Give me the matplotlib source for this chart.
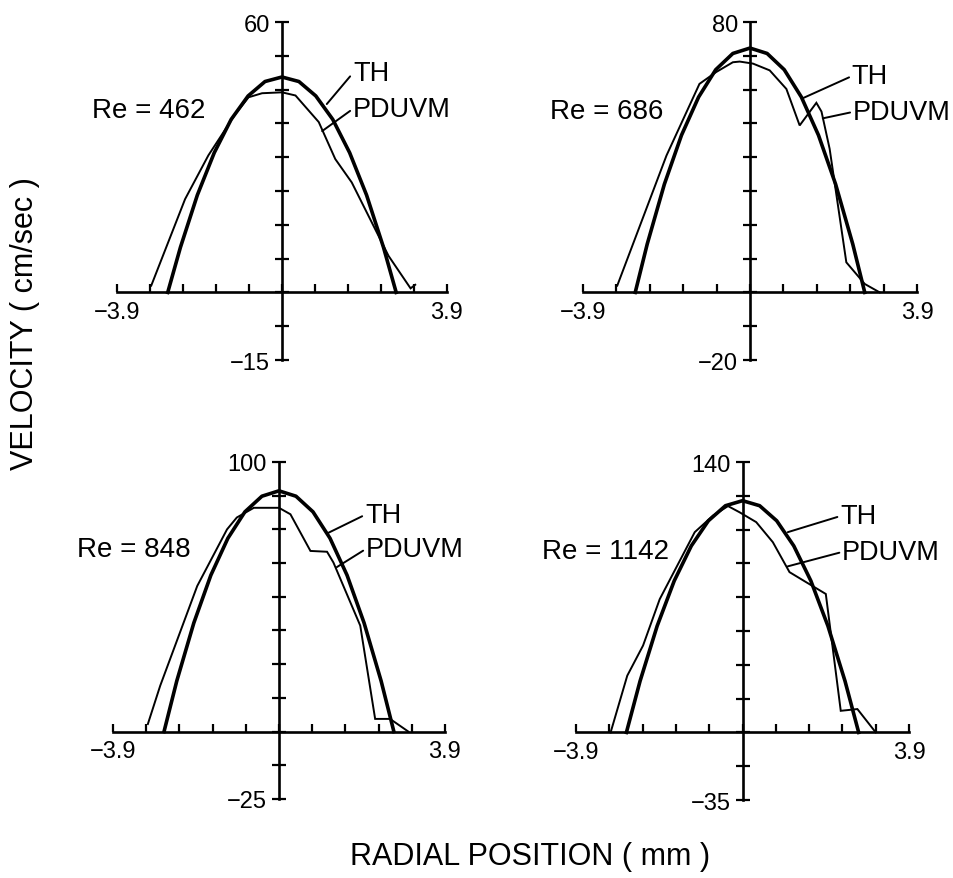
"""
Velocity profiles, theory (TH) vs. pulsed Doppler (PDUVM), four Reynolds numbers.
"""
import numpy as np
import matplotlib
matplotlib.use("Agg")
import matplotlib.pyplot as plt

plt.rcParams["font.family"] = ["Liberation Sans", "DejaVu Sans"]

# ---- data ------------------------------------------------------------------
RE_LABELS = ["Re = 462", "Re = 686", "Re = 848", "Re = 1142"]
Y_MIN = [-15, -20, -25, -35]
Y_MAX = [60, 80, 100, 140]
X_LIM = 3.9

# theoretical profiles (thick line)
th_x_462 = [-2.7, -2.4, -2.0, -1.6, -1.2, -0.8, -0.4, 0.0, 0.4, 0.8, 1.2, 1.6, 2.0, 2.4, 2.7]
th_y_462 = [0.0, 10.0, 21.6, 31.0, 38.4, 43.6, 46.8, 47.8, 46.8, 43.6, 38.4, 31.0, 21.6, 10.0, 0.0]

th_x_686 = [-2.68, -2.4, -2.0, -1.6, -1.2, -0.8, -0.4, 0.0, 0.4, 0.8, 1.2, 1.6, 2.0, 2.4, 2.68]
th_y_686 = [0.0, 14.3, 32.0, 46.5, 57.8, 65.9, 70.7, 72.3, 70.7, 65.9, 57.8, 46.5, 32.0, 14.3, 0.0]

th_x_848 = [-2.7, -2.4, -2.0, -1.6, -1.2, -0.8, -0.4, 0.0, 0.4, 0.8, 1.2, 1.6, 2.0, 2.4, 2.7]
th_y_848 = [0.0, 18.8, 40.3, 58.0, 71.7, 81.5, 87.3, 89.3, 87.3, 81.5, 71.7, 58.0, 40.3, 18.8, 0.0]

th_x_1142 = [-2.72, -2.4, -2.0, -1.6, -1.2, -0.8, -0.4, 0.0, 0.4, 0.8, 1.2, 1.6, 2.0, 2.4, 2.72]
th_y_1142 = [0.0, 26.6, 55.1, 78.5, 96.6, 109.6, 117.4, 120.0, 117.4, 109.6, 96.6, 78.5, 55.1, 26.6, 0.0]

# measured profiles (thin line)
pd_x_462 = [-3.09, -2.29, -1.74, -1.10, -0.79, -0.47, 0.0, 0.32, 0.87, 1.26, 1.65, 2.52, 3.04, 3.15]
pd_y_462 = [1.5, 20.7, 30.4, 39.6, 43.3, 44.2, 44.4, 43.7, 37.8, 29.6, 24.4, 8.1, 0.9, 1.7]

pd_x_686 = [-3.10, -1.95, -1.18, -0.79, -0.40, -0.24, 0.07, 0.46, 0.85, 1.16, 1.55, 1.67, 1.86, 2.25, 2.68, 3.03]
pd_y_686 = [2.0, 40.5, 61.7, 65.2, 68.1, 68.3, 67.7, 65.7, 60.2, 49.4, 56.1, 53.5, 42.5, 8.9, 2.5, 0.0]

pd_x_848 = [-3.08, -2.79, -1.92, -1.22, -0.99, -0.59, 0.0, 0.27, 0.74, 1.13, 1.28, 1.91, 2.26, 2.61, 3.04]
pd_y_848 = [2.8, 17.0, 54.0, 75.0, 79.4, 83.0, 83.0, 80.6, 67.0, 66.7, 62.7, 39.3, 4.7, 4.7, 0.0]

pd_x_1142 = [-3.09, -2.70, -2.33, -1.94, -1.12, -0.69, -0.34, -0.07, 0.32, 0.71, 1.10, 1.49, 1.95, 2.30, 2.69, 3.12]
pd_y_1142 = [0.0, 29.4, 45.0, 69.0, 103.7, 112.3, 117.2, 114.0, 108.9, 98.5, 83.0, 77.8, 71.7, 11.2, 12.1, 0.0]

TH_X = [th_x_462, th_x_686, th_x_848, th_x_1142]
TH_Y = [th_y_462, th_y_686, th_y_848, th_y_1142]
PD_X = [pd_x_462, pd_x_686, pd_x_848, pd_x_1142]
PD_Y = [pd_y_462, pd_y_686, pd_y_848, pd_y_1142]

# leader line end points on the curves (data coords)
TH_POINT = [(1.06, 41.8), (1.24, 57.5), (1.17, 73.8), (1.06, 103.7)]
PD_POINT = [(0.95, 35.8), (1.70, 51.5), (1.36, 61.0), (1.06, 86.0)]

# ---- layout ----------------------------------------------------------------
AX_RECTS = [
    [0.1226, 0.5893, 0.3459, 0.3845],
    [0.6111, 0.5893, 0.3501, 0.3845],
    [0.1184, 0.0899, 0.3480, 0.3834],
    [0.6038, 0.0887, 0.3491, 0.3845],
]
RE_POS = [(-0.076, 0.740), (-0.099, 0.737), (-0.108, 0.742), (-0.102, 0.737)]
TH_POS = [(0.715, 0.849), (0.805, 0.840), (0.759, 0.843), (0.793, 0.840)]
PD_POS = [(0.715, 0.743), (0.808, 0.734), (0.762, 0.742), (0.799, 0.734)]


def draw_panel(ax, i):
    ax.plot(PD_X[i], PD_Y[i], color="black", lw=1.4, solid_joinstyle="miter")
    ax.plot(TH_X[i], TH_Y[i], color="black", lw=2.6)

    ax.set_xlim(-X_LIM, X_LIM)
    ax.set_ylim(Y_MIN[i], Y_MAX[i])

    for side in ("top", "right"):
        ax.spines[side].set_visible(False)
    ax.spines["left"].set_position(("data", 0))
    ax.spines["bottom"].set_position(("data", 0))
    ax.spines["left"].set_linewidth(1.9)
    ax.spines["bottom"].set_linewidth(1.9)

    xt = np.linspace(-X_LIM, X_LIM, 11)
    ax.set_xticks(xt)
    ax.set_xticklabels(["\u22123.9"] + [""] * 9 + ["3.9"])
    yt = np.linspace(Y_MIN[i], Y_MAX[i], 11)
    ax.set_yticks(yt)
    ax.set_yticklabels([f"\u2212{-Y_MIN[i]}"] + [""] * 9 + [str(Y_MAX[i])])

    ax.tick_params(axis="x", direction="in", length=5.5, width=1.6, pad=6, labelsize=17)
    ax.tick_params(axis="y", direction="inout", length=9.5, width=1.6, pad=4, labelsize=17)

    ax.text(*RE_POS[i], RE_LABELS[i], transform=ax.transAxes, fontsize=20,
            ha="left", va="center")
    arrow = dict(arrowstyle="-", lw=1.4, color="black", shrinkA=0, shrinkB=0,
                 relpos=(0, 0.5))
    ax.annotate("TH", xy=TH_POINT[i], xycoords="data", xytext=TH_POS[i],
                textcoords="axes fraction", fontsize=19.5, ha="left", va="center",
                arrowprops=arrow)
    ax.annotate("PDUVM", xy=PD_POINT[i], xycoords="data", xytext=PD_POS[i],
                textcoords="axes fraction", fontsize=19.5, ha="left", va="center",
                arrowprops=arrow)


def main():
    fig = plt.figure(figsize=(9.54, 8.79), dpi=100)
    fig.patch.set_facecolor("white")
    for i, rect in enumerate(AX_RECTS):
        ax = fig.add_axes(rect)
        ax.patch.set_alpha(0)
        draw_panel(ax, i)

    fig.text(25 / 954, 1 - 324 / 879, "VELOCITY ( cm/sec )", rotation=90,
             ha="center", va="center", fontsize=22)
    fig.text(530 / 954, 1 - 857 / 879, "RADIAL POSITION ( mm )",
             ha="center", va="center", fontsize=22)

    fig.savefig("out.png", dpi=100)


if __name__ == "__main__":
    main()
